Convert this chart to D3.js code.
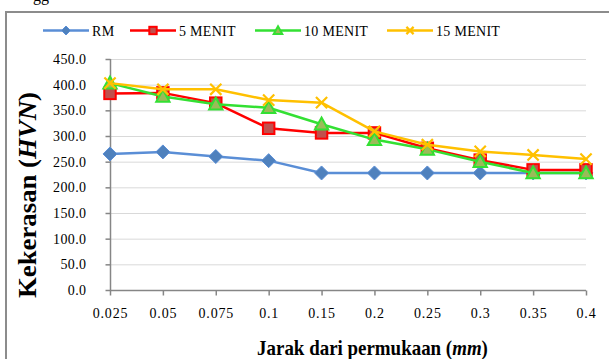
<!DOCTYPE html>
<html>
<head>
<meta charset="utf-8">
<script src="https://cdn.jsdelivr.net/npm/d3@7"></script>
<style>
html,body{margin:0;padding:0;background:#fff;overflow:hidden;}
svg{display:block;}
</style>
</head>
<body>
<svg id="chart" width="609" height="359"></svg>
<script>
const categories = ["0.025","0.05","0.075","0.1","0.15","0.2","0.25","0.3","0.35","0.4"];
const seriesNames = ["RM","5 MENIT","10 MENIT","15 MENIT"];
const rm      = [265, 269, 260, 252, 228, 228, 228, 228, 228, 228];
const menit5  = [383, 384, 364, 315, 306, 306, 276, 253, 234, 234];
const menit10 = [403, 377, 362, 355, 323, 293, 274, 250, 228, 228];
const menit15 = [403, 391, 391, 370, 365, 309, 283, 270, 263, 255];
const yTicks  = [0, 50, 100, 150, 200, 250, 300, 350, 400, 450];

const styles = [
  {line:"#5a8ed6", fill:"#4f81bd", stroke:"#5a8ed6", shape:"diamond"},
  {line:"#ff0000", fill:"#c0504d", stroke:"#ff0000", shape:"square"},
  {line:"#33e033", fill:"#9bbb59", stroke:"#33e033", shape:"triangle"},
  {line:"#ffc000", fill:"none",    stroke:"#ffc000", shape:"x"}
];
const allSeries = [rm, menit5, menit10, menit15];

const svg = d3.select("#chart");
const serif = "Liberation Serif";

// partial text of document above the chart
svg.append("text").attr("x", 33).attr("y", 1)
  .attr("font-family", serif).attr("font-size", 16).attr("fill", "#000").text("gg");

// chart frame
svg.append("rect").attr("x", 6).attr("y", 12).attr("width", 640).attr("height", 400)
  .attr("fill", "#fff").attr("stroke", "#8c8c8c").attr("stroke-width", 2);

const x = d3.scalePoint().domain(categories).range([110, 586]);
const y = d3.scaleLinear().domain([0, 450]).range([290, 59]);

// gridlines
svg.append("g").selectAll("line").data(yTicks.filter(d => d > 0)).join("line")
  .attr("x1", 110).attr("x2", 586)
  .attr("y1", d => y(d) + 0.5).attr("y2", d => y(d) + 0.5)
  .attr("stroke", "#d9d9d9").attr("stroke-width", 1);

// y axis
const yAxis = svg.append("g").attr("transform", "translate(110.5,0)")
  .call(d3.axisLeft(y).tickValues(yTicks).tickFormat(d3.format(".1f")).tickSize(5).tickPadding(19));
yAxis.select(".domain").attr("stroke", "#868686").attr("stroke-width", 1.5).attr("d", `M0,${y(450)}V${y(0)}`);
yAxis.selectAll(".tick line").attr("stroke", "#868686").attr("stroke-width", 1.5);
yAxis.selectAll(".tick text").attr("font-family", serif).attr("font-size", 14).attr("fill", "#000")
  .attr("letter-spacing", 0.4);

// x axis
const xAxis = svg.append("g").attr("transform", `translate(0,${y(0) + 0.5})`)
  .call(d3.axisBottom(x).tickSize(5).tickPadding(13));
xAxis.select(".domain").attr("stroke", "#868686").attr("stroke-width", 1.5).attr("d", `M110,0H586`);
xAxis.selectAll(".tick line").attr("stroke", "#868686").attr("stroke-width", 1.5);
xAxis.selectAll(".tick text").attr("font-family", serif).attr("font-size", 14).attr("fill", "#000")
  .attr("letter-spacing", 0.8);

function marker(sel, shape, st, s) {
  if (shape === "diamond") {
    sel.append("path").attr("d", `M0,${-s}L${s},0L0,${s}L${-s},0Z`)
      .attr("fill", st.fill).attr("stroke", st.stroke).attr("stroke-width", 1);
  } else if (shape === "square") {
    const h = s * 0.82;
    sel.append("rect").attr("x", -h).attr("y", -h).attr("width", 2*h).attr("height", 2*h)
      .attr("fill", st.fill).attr("stroke", st.stroke).attr("stroke-width", 2);
  } else if (shape === "triangle") {
    const h = s * 0.95;
    sel.append("path").attr("d", `M0,${-h}L${h},${h*0.8}L${-h},${h*0.8}Z`)
      .attr("fill", st.fill).attr("stroke", st.stroke).attr("stroke-width", 2);
  } else {
    const h = s * 0.8;
    sel.append("path").attr("d", `M${-h},${-h}L${h},${h}M${h},${-h}L${-h},${h}`)
      .attr("fill", "none").attr("stroke", st.stroke).attr("stroke-width", 2.2);
  }
}

const line = d3.line().x((d, i) => x(categories[i])).y(d => y(d));
allSeries.forEach((vals, si) => {
  const st = styles[si];
  const g = svg.append("g");
  g.append("path").datum(vals).attr("d", line)
    .attr("fill", "none").attr("stroke", st.line).attr("stroke-width", 2.5).attr("stroke-linejoin", "round");
  vals.forEach((v, i) => {
    const m = g.append("g").attr("transform", `translate(${x(categories[i])},${y(v)})`);
    marker(m, st.shape, st, 7);
  });
});

// legend
const legendX = [43, 130, 255, 387];
seriesNames.forEach((name, i) => {
  const st = styles[i];
  const g = svg.append("g").attr("transform", `translate(${legendX[i]},30.5)`);
  g.append("line").attr("x1", 0).attr("x2", 46).attr("stroke", st.line).attr("stroke-width", 2.5);
  const m = g.append("g").attr("transform", "translate(23,0)");
  marker(m, st.shape, st, 4.5);
  g.append("text").attr("x", 49).attr("y", 5).attr("font-family", serif).attr("font-size", 14)
    .attr("letter-spacing", 0.3).attr("fill", "#000").text(name);
});

// axis titles (horizontally fitted to the reference width)
function fitted(g, target) {
  const t = g.select("text");
  const w = t.node().getComputedTextLength();
  t.attr("transform", `scale(${target / w},1)`);
}
const xg = svg.append("g").attr("transform", "translate(372.5,355)");
const xt = xg.append("text").attr("text-anchor", "middle")
  .attr("font-family", serif).attr("font-weight", "bold").attr("font-size", 22).attr("fill", "#000");
xt.append("tspan").text("Jarak dari permukaan (");
xt.append("tspan").attr("font-style", "italic").text("mm");
xt.append("tspan").text(")");
fitted(xg, 231);

const yg = svg.append("g").attr("transform", "translate(36,195) rotate(-90)");
const yt = yg.append("text").attr("text-anchor", "middle")
  .attr("font-family", serif).attr("font-weight", "bold").attr("font-size", 25).attr("fill", "#000");
yt.append("tspan").text("Kekerasan (");
yt.append("tspan").attr("font-style", "italic").text("HVN");
yt.append("tspan").text(")");
fitted(yg, 206);
</script>
</body>
</html>
